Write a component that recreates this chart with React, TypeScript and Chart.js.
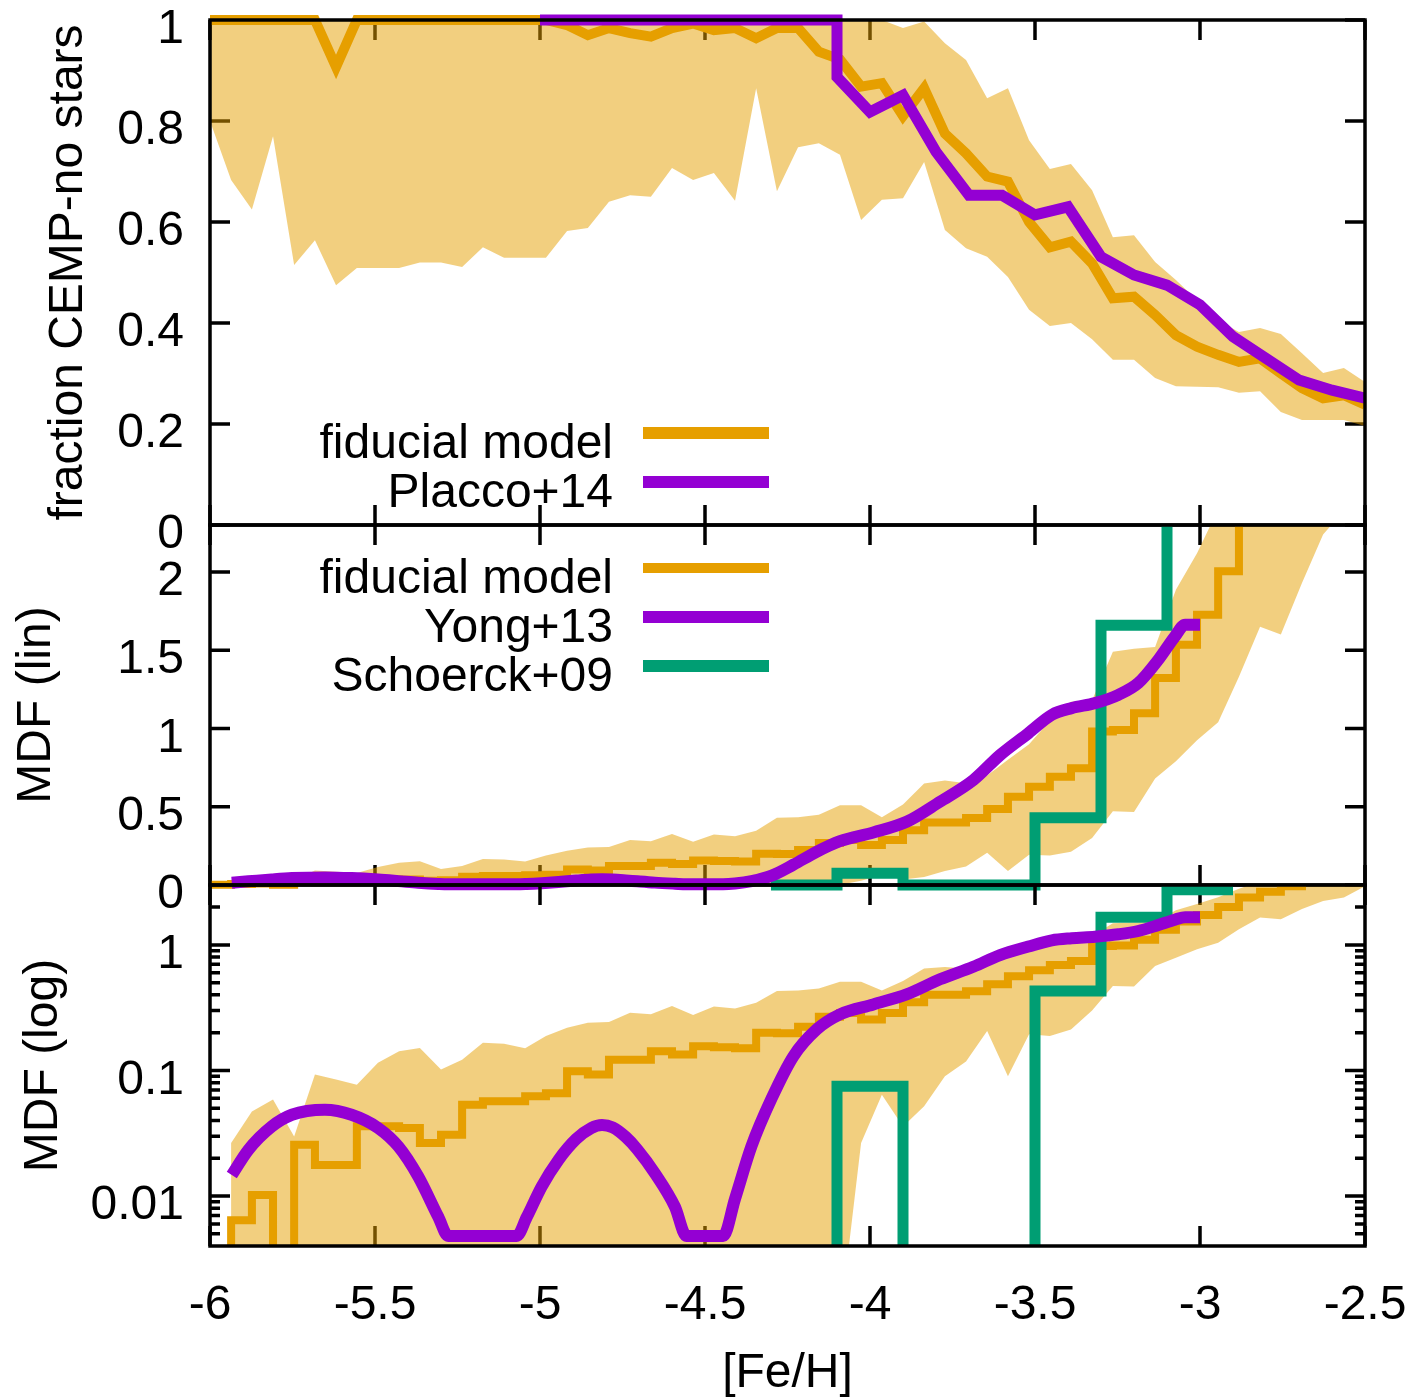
import React, { useEffect, useRef } from 'react';
import { Chart, registerables } from 'chart.js';

Chart.register(...registerables);

const FONT_FAMILY = '"Liberation Sans", Arial, Helvetica, sans-serif';
const ORANGE = '#E69F00';
const BAND = 'rgba(230,159,0,0.5)';
const PURPLE = '#9400D3';
const GREEN = '#009E73';

// ---------- model grid ([Fe/H]) ----------
const modelFeH = [
  -6.000, -5.936, -5.873, -5.809, -5.745, -5.682, -5.618, -5.555, -5.491, -5.427,
  -5.364, -5.300, -5.236, -5.173, -5.109, -5.045, -4.982, -4.918, -4.855, -4.791,
  -4.727, -4.664, -4.600, -4.536, -4.473, -4.409, -4.345, -4.282, -4.218, -4.155,
  -4.091, -4.027, -3.964, -3.900, -3.836, -3.773, -3.709, -3.645, -3.582, -3.518,
  -3.455, -3.391, -3.327, -3.264, -3.200, -3.136, -3.073, -3.009, -2.945, -2.882,
  -2.818, -2.755, -2.691, -2.627, -2.564, -2.500,
];

// ---------- top panel: fraction of CEMP-no stars ----------
const fracModel = [
  1, 1, 1, 1, 1, 1, 0.907, 1, 1, 1,
  1, 1, 1, 1, 1, 1, 1, 0.99, 0.97, 0.984,
  0.974, 0.967, 0.984, 0.993, 0.98, 0.984, 0.964, 0.984, 0.984, 0.937,
  0.922, 0.868, 0.875, 0.81, 0.865, 0.775, 0.736, 0.69, 0.68, 0.6,
  0.55, 0.561, 0.518, 0.449, 0.452, 0.416, 0.376, 0.353, 0.337, 0.323,
  0.33, 0.3, 0.271, 0.251, 0.257, 0.238,
];
const fracLow = [
  0.8, 0.683, 0.625, 0.77, 0.515, 0.564, 0.475, 0.509, 0.509, 0.509,
  0.52, 0.52, 0.511, 0.55, 0.529, 0.529, 0.529, 0.582, 0.588, 0.64,
  0.653, 0.65, 0.707, 0.683, 0.697, 0.642, 0.865, 0.661, 0.748, 0.756,
  0.733, 0.604, 0.644, 0.647, 0.719, 0.584, 0.548, 0.531, 0.491, 0.426,
  0.394, 0.4, 0.368, 0.327, 0.327, 0.291, 0.275, 0.274, 0.273, 0.262,
  0.265, 0.224, 0.208, 0.208, 0.208, 0.196,
];
const fracHigh = [
  1, 1, 1, 1, 1, 1, 1, 1, 1, 1,
  1, 1, 1, 1, 1, 1, 1, 1, 1, 1,
  1, 1, 1, 1, 1, 1, 1, 1, 1, 1,
  1, 1, 1, 0.984, 0.997, 0.954, 0.921, 0.845, 0.865, 0.762,
  0.705, 0.715, 0.663, 0.57, 0.574, 0.521, 0.485, 0.445, 0.405, 0.382,
  0.39, 0.378, 0.34, 0.301, 0.311, 0.283,
];
const placcoFeH = [-5.0, -4.1, -4.1, -4.0, -3.9, -3.8, -3.7, -3.6, -3.5, -3.4, -3.3, -3.2, -3.1, -3.0, -2.9, -2.8, -2.7, -2.6, -2.5];
const placcoFrac = [1, 1, 0.887, 0.818, 0.851, 0.739, 0.653, 0.653, 0.614, 0.63, 0.531, 0.495, 0.475, 0.436, 0.373, 0.33, 0.287, 0.267, 0.251];

// ---------- MDF panels ----------
// value of each model bin, held from modelFeH[k] to modelFeH[k+1]
const mdfModel = [
  0.002, 0.0064, 0.0102, 0.002, 0.0256, 0.0177, 0.0177, 0.036, 0.036, 0.0349,
  0.0265, 0.0308, 0.0533, 0.0568, 0.0568, 0.0622, 0.066, 0.0986, 0.093, 0.122,
  0.122, 0.142, 0.134, 0.156, 0.153, 0.15, 0.2, 0.198, 0.223, 0.268,
  0.287, 0.255, 0.287, 0.35, 0.4, 0.4, 0.428, 0.485, 0.564, 0.628,
  0.692, 0.746, 0.98, 0.99, 1.098, 1.322, 1.535, 1.727, 2.005, 2.39,
  2.65, 2.93, 3.3, 3.6, 3.9, 4.2,
];
const mdfLow = [
  null, 0.001, 0.001, 0.001, 0.001, 0.001, 0.001, 0.001, 0.001, 0.001,
  0.001, 0.001, 0.001, 0.001, 0.001, 0.001, 0.001, 0.001, 0.001, 0.001,
  0.001, 0.001, 0.001, 0.001, 0.001, 0.001, 0.001, 0.001, 0.001, 0.001,
  0.001, 0.0264, 0.064, 0.0358, 0.0518, 0.09, 0.118, 0.206, 0.09, 0.194,
  0.188, 0.212, 0.3, 0.471, 0.467, 0.68, 0.79, 0.924, 1.04, 1.33,
  1.65, 1.6, 1.93, 2.24, 2.39, 2.93,
];
const mdfHigh = [
  null, 0.0265, 0.0472, 0.0586, 0.0298, 0.0927, 0.0846, 0.077, 0.115, 0.142,
  0.151, 0.102, 0.122, 0.166, 0.163, 0.15, 0.188, 0.219, 0.24, 0.243,
  0.288, 0.28, 0.326, 0.276, 0.323, 0.312, 0.347, 0.43, 0.433, 0.449,
  0.51, 0.51, 0.433, 0.515, 0.648, 0.667, 0.65, 0.7, 0.8, 0.9,
  1.05, 1.17, 1.18, 1.49, 1.51, 1.52, 1.887, 2.12, 2.4, 2.8,
  3.2, 3.5, 3.8, 4.0, 4.2, 4.4,
];
const yongFeH = [
  -5.934, -5.884, -5.813, -5.752, -5.652, -5.571, -5.49, -5.429, -5.369, -5.308,
  -5.278, -5.071, -5.04, -4.995, -4.944, -4.89, -4.845, -4.812, -4.78, -4.74,
  -4.705, -4.652, -4.591, -4.556, -4.445, -4.409, -4.359, -4.298, -4.232, -4.162,
  -4.091, -3.99, -3.889, -3.788, -3.687, -3.606, -3.52, -3.449, -3.389, -3.318,
  -3.247, -3.187, -3.126, -3.076, -3.045, -3.0,
];
const yongMDF = [
  0.0147, 0.0233, 0.0358, 0.0444, 0.0487, 0.0444, 0.0348, 0.0248, 0.0143, 0.0068,
  0.0048, 0.0048, 0.0068, 0.0119, 0.0194, 0.0285, 0.0348, 0.0368, 0.0352, 0.0295,
  0.0235, 0.0152, 0.0082, 0.0048, 0.0048, 0.0095, 0.025, 0.06, 0.13, 0.212,
  0.28, 0.336, 0.404, 0.532, 0.67, 0.83, 0.97, 1.087, 1.13, 1.162,
  1.215, 1.29, 1.44, 1.588, 1.663, 1.663,
];
const schoerckFeH = [-4.3, -4.1, -3.9, -3.7, -3.5, -3.3, -3.1, -2.9];
const schoerckMDF = [0, 0.075, 0, 0, 0.43, 1.66, 2.75, 2.75];

// ---------- tick values ----------
const xTickStep = 0.5;
const fracTicks = [0, 0.2, 0.4, 0.6, 0.8, 1];
const linTicks = [0, 0.5, 1, 1.5, 2];
const logTicks = [
  0.005, 0.006, 0.007, 0.008, 0.009,
  0.01, 0.02, 0.03, 0.04, 0.05, 0.06, 0.07, 0.08, 0.09,
  0.1, 0.2, 0.3, 0.4, 0.5, 0.6, 0.7, 0.8, 0.9,
  1, 2,
];
const logLabels = [0.01, 0.1, 1];

// ---------- layout ----------
const W = 1410;
const H = 1400;
const LEFT = 210;
const RIGHT_PAD = W - 1365;
const FONT = { family: FONT_FAMILY, size: 48 };
const Y_LABEL_SHIFT = 10;

function pts(xs: number[], ys: (number | null)[], floor?: number) {
  const out: { x: number; y: number }[] = [];
  xs.forEach((x, i) => {
    const y = ys[i];
    if (y === null || y === undefined) return;
    out.push({ x, y: floor !== undefined && y <= 0 ? floor : y });
  });
  return out;
}

type LegendItem = { label: string; color: string; width: number };

function makeFramePlugin(opts: { log?: boolean; legend: { items: LegendItem[]; baseline: number; spacing: number } }) {
  return {
    id: 'frameTicks',
    beforeDatasetsDraw(chart: any) {
      const { ctx, chartArea: a, scales } = chart;
      const xs = scales.x;
      const ys = scales.y;
      ctx.save();
      ctx.strokeStyle = '#000';
      ctx.lineWidth = 3.5;
      ctx.lineCap = 'butt';
      ctx.beginPath();
      for (const t of xs.ticks) {
        const p = xs.getPixelForValue(t.value);
        ctx.moveTo(p, a.bottom);
        ctx.lineTo(p, a.bottom - 20);
        ctx.moveTo(p, a.top);
        ctx.lineTo(p, a.top + 20);
      }
      for (const t of ys.ticks) {
        const v = t.value;
        const p = ys.getPixelForValue(v);
        let len = 20;
        if (opts.log) {
          const e = Math.log10(v);
          len = Math.abs(e - Math.round(e)) < 1e-6 ? 20 : 10;
        }
        ctx.moveTo(a.left, p);
        ctx.lineTo(a.left + len, p);
        ctx.moveTo(a.right, p);
        ctx.lineTo(a.right - len, p);
      }
      ctx.stroke();
      ctx.restore();
    },
    afterDatasetsDraw(chart: any) {
      const { ctx, chartArea: a } = chart;
      ctx.save();
      ctx.strokeStyle = '#000';
      ctx.lineWidth = 3.5;
      ctx.strokeRect(a.left, a.top, a.right - a.left, a.bottom - a.top);
      const lg = opts.legend;
      ctx.font = `48px ${FONT_FAMILY}`;
      ctx.textAlign = 'right';
      ctx.textBaseline = 'alphabetic';
      lg.items.forEach((it, i) => {
        const base = lg.baseline + i * lg.spacing;
        ctx.fillStyle = '#000';
        ctx.fillText(it.label, 613, base);
        ctx.strokeStyle = it.color;
        ctx.lineWidth = it.width;
        ctx.beginPath();
        ctx.moveTo(643, base - 25);
        ctx.lineTo(769, base - 25);
        ctx.stroke();
      });
      ctx.restore();
    },
  };
}

function yAxis(extra: any, title: string, titlePad: number, ticks: number[], fmt: (v: number) => string) {
  return {
    ...extra,
    position: 'left',
    grid: { display: false, drawTicks: false },
    border: { display: false },
    afterBuildTicks: (s: any) => {
      s.ticks = ticks.map((v) => ({ value: v }));
    },
    afterFit: (s: any) => {
      s.width = LEFT;
      s.paddingTop = 0;
      s.paddingBottom = 0;
      s.paddingLeft = 0;
      s.paddingRight = 0;
    },
    ticks: {
      autoSkip: false,
      padding: 26,
      labelOffset: Y_LABEL_SHIFT,
      color: '#000',
      font: FONT,
      callback: (v: any) => fmt(Number(v)),
    },
    title: {
      display: true,
      text: title,
      color: '#000',
      font: FONT,
      padding: { top: titlePad, bottom: 0 },
    },
  };
}

const hiddenX = () => ({
  type: 'linear',
  min: -6,
  max: -2.5,
  display: false,
  ticks: { stepSize: xTickStep },
  afterFit: (s: any) => {
    s.paddingLeft = 0;
    s.paddingRight = 0;
    s.paddingTop = 0;
    s.paddingBottom = 0;
  },
});

const baseOptions = (padTop: number, padBottom: number) => ({
  responsive: false,
  maintainAspectRatio: false,
  animation: false,
  devicePixelRatio: 1,
  events: [],
  layout: { autoPadding: false, padding: { left: 0, right: RIGHT_PAD, top: padTop, bottom: padBottom } },
  plugins: { legend: { display: false }, tooltip: { enabled: false } },
  elements: { point: { radius: 0 } },
});

const clipTop = { left: 0, top: 8, right: 0, bottom: 0 };
const clipBottom = { left: 0, top: 0, right: 0, bottom: 8 };
const clipNone = { left: 0, top: 0, right: 0, bottom: 0 };

function configTop(): any {
  return {
    type: 'line',
    data: {
      datasets: [
        { data: pts(modelFeH, fracLow), borderWidth: 0, pointRadius: 0, fill: false, order: 10 },
        { data: pts(modelFeH, fracHigh), borderWidth: 0, pointRadius: 0, fill: '-1', backgroundColor: BAND, order: 9 },
        { data: pts(modelFeH, fracModel), borderColor: ORANGE, borderWidth: 10, pointRadius: 0, fill: false, order: 3, clip: clipTop, borderJoinStyle: 'miter' },
        { data: pts(placcoFeH, placcoFrac), borderColor: PURPLE, borderWidth: 11, pointRadius: 0, fill: false, order: 2, clip: clipTop, borderJoinStyle: 'miter' },
      ],
    },
    options: {
      ...baseOptions(20, H - 525),
      scales: {
        x: hiddenX(),
        y: yAxis({ type: 'linear', min: 0, max: 1 }, 'fraction CEMP-no stars', 39.6, fracTicks, (v) => String(Math.round(v * 10) / 10)),
      },
    },
    plugins: [
      makeFramePlugin({
        legend: {
          baseline: 458,
          spacing: 49,
          items: [
            { label: 'fiducial model', color: ORANGE, width: 12 },
            { label: 'Placco+14', color: PURPLE, width: 12 },
          ],
        },
      }),
    ],
  };
}

function configMid(): any {
  return {
    type: 'line',
    data: {
      datasets: [
        { data: pts(modelFeH, mdfLow), borderWidth: 0, pointRadius: 0, fill: false, order: 10 },
        { data: pts(modelFeH, mdfHigh), borderWidth: 0, pointRadius: 0, fill: '-1', backgroundColor: BAND, order: 9 },
        { data: pts(modelFeH, mdfModel), borderColor: ORANGE, borderWidth: 8, pointRadius: 0, fill: false, stepped: 'before', order: 4, clip: clipBottom },
        { data: pts(schoerckFeH, schoerckMDF), borderColor: GREEN, borderWidth: 11, pointRadius: 0, fill: false, stepped: 'before', order: 3, clip: clipBottom },
        { data: pts(yongFeH, yongMDF), borderColor: PURPLE, borderWidth: 12, pointRadius: 0, fill: false, cubicInterpolationMode: 'monotone', order: 2, clip: clipBottom },
      ],
    },
    options: {
      ...baseOptions(525, H - 885),
      scales: {
        x: hiddenX(),
        y: yAxis({ type: 'linear', min: 0, max: 2.3 }, 'MDF (lin)', 7.6, linTicks, (v) => String(v)),
      },
    },
    plugins: [
      makeFramePlugin({
        legend: {
          baseline: 593,
          spacing: 49,
          items: [
            { label: 'fiducial model', color: ORANGE, width: 10 },
            { label: 'Yong+13', color: PURPLE, width: 12 },
            { label: 'Schoerck+09', color: GREEN, width: 12 },
          ],
        },
      }),
    ],
  };
}

function configLog(): any {
  return {
    type: 'line',
    data: {
      datasets: [
        { data: pts(modelFeH, mdfLow), borderWidth: 0, pointRadius: 0, fill: false, order: 10 },
        { data: pts(modelFeH, mdfHigh), borderWidth: 0, pointRadius: 0, fill: '-1', backgroundColor: BAND, order: 9 },
        { data: pts(modelFeH, mdfModel), borderColor: ORANGE, borderWidth: 8, pointRadius: 0, fill: false, stepped: 'before', order: 4, clip: clipNone },
        { data: pts(schoerckFeH, schoerckMDF, 1e-4), borderColor: GREEN, borderWidth: 11, pointRadius: 0, fill: false, stepped: 'before', order: 3, clip: clipNone },
        { data: pts(yongFeH, yongMDF), borderColor: PURPLE, borderWidth: 12, pointRadius: 0, fill: false, cubicInterpolationMode: 'monotone', order: 2, clip: clipNone },
      ],
    },
    options: {
      ...baseOptions(885, 0),
      scales: {
        x: {
          type: 'linear',
          position: 'bottom',
          min: -6,
          max: -2.5,
          grid: { display: false, drawTicks: false },
          border: { display: false },
          afterFit: (s: any) => {
            s.height = H - 1246;
            s.paddingLeft = 0;
            s.paddingRight = 0;
            s.paddingTop = 0;
            s.paddingBottom = 0;
          },
          ticks: {
            stepSize: xTickStep,
            autoSkip: false,
            maxRotation: 0,
            minRotation: 0,
            padding: 31,
            color: '#000',
            font: FONT,
            callback: (v: any) => String(v),
          },
          title: {
            display: true,
            text: '[Fe/H]',
            color: '#000',
            font: { ...FONT, lineHeight: 1.1 },
            padding: { top: 0, bottom: 0 },
          },
        },
        y: yAxis({ type: 'logarithmic', min: 0.004, max: 3 }, 'MDF (log)', 14.6, logTicks, (v) =>
          logLabels.some((l) => Math.abs(l - v) < 1e-9) ? String(v) : ''
        ),
      },
    },
    plugins: [
      makeFramePlugin({ log: true, legend: { baseline: 0, spacing: 0, items: [] } }),
    ],
  };
}

export default function App() {
  const refTop = useRef<HTMLCanvasElement>(null);
  const refMid = useRef<HTMLCanvasElement>(null);
  const refLog = useRef<HTMLCanvasElement>(null);

  useEffect(() => {
    const charts: Chart[] = [];
    if (refTop.current) charts.push(new Chart(refTop.current, configTop()));
    if (refMid.current) charts.push(new Chart(refMid.current, configMid()));
    if (refLog.current) charts.push(new Chart(refLog.current, configLog()));
    return () => {
      charts.forEach((c) => c.destroy());
    };
  }, []);

  const cStyle: React.CSSProperties = { position: 'absolute', left: 0, top: 0 };
  return (
    <div style={{ position: 'absolute', left: 0, top: 0, width: W, height: H, background: '#fff' }}>
      <canvas ref={refTop} width={W} height={H} style={cStyle} />
      <canvas ref={refMid} width={W} height={H} style={cStyle} />
      <canvas ref={refLog} width={W} height={H} style={cStyle} />
    </div>
  );
}
